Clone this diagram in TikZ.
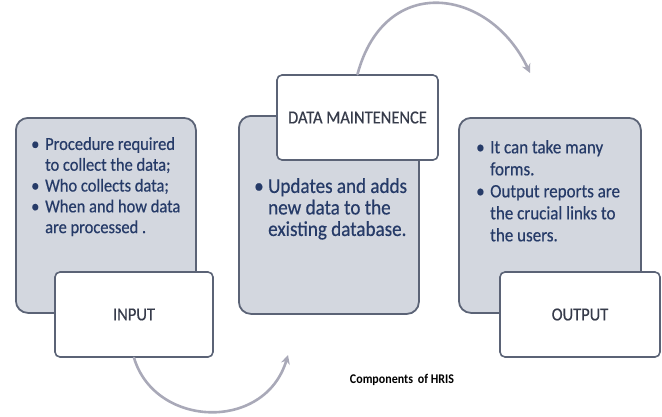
\documentclass[tikz,border=0pt]{standalone}
\usepackage{fontspec}
\setmainfont{Carlito}[FakeStretch=0.9]
\newfontfamily\heavyfont{Carlito}[FakeStretch=0.9,FakeBold=0.5]
\usetikzlibrary{arrows.meta}
\definecolor{boxfill}{HTML}{D3D7DF}
\definecolor{boxedge}{HTML}{5B6376}
\definecolor{txtblue}{HTML}{263B68}
\definecolor{lbl}{HTML}{363B4A}
\definecolor{arr}{HTML}{A9A9B8}
\newcommand\bitem{\makebox[14pt][l]{\textbullet}}
\newcommand\citem{\hspace*{14pt}}
\begin{document}
\begin{tikzpicture}[x=1pt,y=-1pt,
  graybox/.style={draw=boxedge, line width=1.8pt, fill=boxfill, rounded corners=12pt, inner sep=0pt, anchor=north west},
  whitebox/.style={draw=boxedge, line width=1.6pt, fill=white, rounded corners=5pt, inner sep=0pt,
    text=lbl, font=\heavyfont\fontsize{18.3}{20}\selectfont},
  bodytext/.style={anchor=north west, inner sep=0pt, align=left, text=txtblue},
  cyclearrow/.style={draw=arr, line width=2.6pt, line cap=round, -{Stealth[length=9pt,width=9pt]}}]
\useasboundingbox (0,0) rectangle (662,416);

% gray content boxes
\node[graybox, minimum width=180pt, minimum height=195pt] (g1) at (15,117) {};
\node[graybox, minimum width=180pt, minimum height=198pt] (g2) at (238,115) {};
\node[graybox, minimum width=182pt, minimum height=195pt] (g3) at (458,117) {};

% body texts
\node[bodytext, font=\heavyfont\fontsize{18.3}{20.8}\selectfont] (t1) at (31,137)
  {\bitem Procedure required\\\citem to collect the data;\\\bitem Who collects data;\\\bitem When and how data\\\citem are processed .};
\node[bodytext, font=\heavyfont\fontsize{21.2}{21.5}\selectfont] (t2) at (254,178)
  {\bitem Updates and adds\\\citem new data to the\\\citem existing database.};
\node[bodytext, font=\heavyfont\fontsize{18.9}{22}\selectfont] (t3) at (476,140)
  {\bitem It can take many\\\citem forms.\\\bitem Output reports are\\\citem the crucial links to\\\citem the users.};

% label boxes
\node[whitebox, minimum width=158pt, minimum height=85pt] (inp) at (134,314.5) {INPUT};
\node[whitebox, minimum width=161pt, minimum height=85pt] (dm) at (357.5,117.5) {DATA MAINTENENCE};
\node[whitebox, minimum width=160pt, minimum height=85pt] (out) at (580,314.5) {OUTPUT};

% arrows
\coordinate (a1end) at (530,73);
\coordinate (a2end) at (288,355);
\draw[cyclearrow] (dm.north) .. controls (385,-28) and (490,-12) .. (a1end);
\draw[cyclearrow] (inp.south) .. controls (155,428) and (265,432) .. (a2end);

% caption
\node[font=\bfseries\fontsize{13.3}{15}\selectfont, text=black] (cap) at (402,380) {Components\, of HRIS};
\end{tikzpicture}
\end{document}
